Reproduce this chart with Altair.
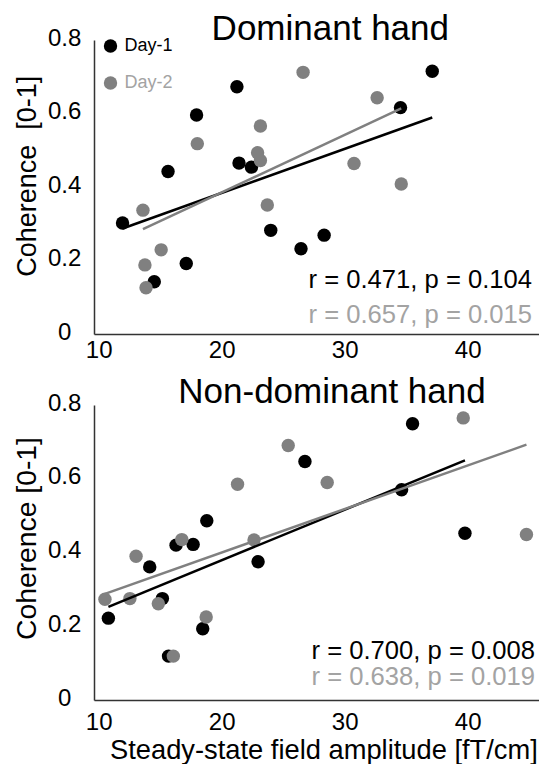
import altair as alt
import pandas as pd

FONT = "Liberation Sans"

days = ["Day-1", "Day-2"]
point_colors = ["#000000", "#808080"]
text_colors = ["#000000", "#a3a3a3"]

panel_titles = ["Dominant hand", "Non-dominant hand"]

# Dominant hand
dom_day1_x = [11.94, 14.52, 15.64, 17.12, 17.96, 21.24, 21.41, 22.42, 23.99, 26.45, 28.33, 34.54, 37.12]
dom_day1_y = [0.302, 0.142, 0.442, 0.192, 0.596, 0.673, 0.465, 0.454, 0.282, 0.232, 0.269, 0.616, 0.715]
dom_day2_x = [13.60, 13.76, 13.85, 15.08, 18.02, 22.92, 23.15, 23.15, 23.71, 26.62, 30.76, 32.64, 34.60]
dom_day2_y = [0.337, 0.188, 0.126, 0.229, 0.518, 0.493, 0.472, 0.566, 0.351, 0.712, 0.464, 0.643, 0.408]

# Non-dominant hand
nd_day1_x = [10.79, 14.15, 15.18, 15.68, 16.29, 17.68, 18.46, 18.79, 22.96, 26.77, 34.63, 35.52, 39.78]
nd_day1_y = [0.222, 0.361, 0.275, 0.119, 0.420, 0.422, 0.193, 0.486, 0.375, 0.647, 0.570, 0.749, 0.452]
nd_day2_x = [10.51, 12.54, 13.04, 14.85, 16.07, 16.76, 18.74, 21.29, 22.63, 25.41, 28.58, 39.64, 44.78]
nd_day2_y = [0.273, 0.275, 0.390, 0.261, 0.119, 0.435, 0.225, 0.585, 0.434, 0.690, 0.590, 0.765, 0.449]

dom_r = [0.471, 0.657]
dom_p = [0.104, 0.015]
nd_r = [0.700, 0.638]
nd_p = [0.008, 0.019]

x_ticks = [10, 20, 30, 40]
y_ticks = [0, 0.2, 0.4, 0.6, 0.8]
x_domain = [9.62, 45.8]
y_domain = [0, 0.8]


def make_df(x1, y1, x2, y2):
    rows = []
    for d, xs, ys in [(days[0], x1, y1), (days[1], x2, y2)]:
        for xv, yv in zip(xs, ys):
            rows.append({"x": xv, "y": yv, "day": d})
    return pd.DataFrame(rows)


def make_stats(rs, ps):
    return pd.DataFrame({
        "day": days,
        "label": [f"r = {r:.3f}, p = {p:.3f}" for r, p in zip(rs, ps)],
    })


dom_df = make_df(dom_day1_x, dom_day1_y, dom_day2_x, dom_day2_y)
nd_df = make_df(nd_day1_x, nd_day1_y, nd_day2_x, nd_day2_y)
dom_stats = make_stats(dom_r, dom_p)
nd_stats = make_stats(nd_r, nd_p)


def panel(df, stats, title, title_size, title_x, title_y, ytitle, ytitle_y, ytitle_size,
          height, xtitle, x_label_pad, show_legend, stat_x, stat_ys):
    color_scale = alt.Scale(domain=days, range=point_colors)
    x_axis_kw = dict(values=x_ticks, format="d", labelPadding=x_label_pad,
                     labelFlush=False, title=xtitle)
    if xtitle:
        x_axis_kw.update(titleX=229.4, titleY=58, titleAlign="center",
                         titleBaseline="alphabetic", titleFontSize=27.3, titleAngle=0)
    x = alt.X("x:Q", scale=alt.Scale(domain=x_domain, nice=False, zero=False),
              axis=alt.Axis(**x_axis_kw))
    y = alt.Y("y:Q", scale=alt.Scale(domain=y_domain, nice=False),
              axis=alt.Axis(values=y_ticks, format="~g", title=ytitle,
                            titleAngle=270, titleAlign="center",
                            titleBaseline="alphabetic", titleX=-59, titleY=ytitle_y,
                            titleFontSize=ytitle_size, labelAlign="center",
                            labelBaseline="middle", labelPadding=29.8,
                            labelOffset=-2, labelFlush=False))
    if show_legend:
        legend = alt.Legend(title=None, orient="none", legendX=7.5, legendY=-3,
                            direction="vertical", labelFont=FONT, labelFontSize=18,
                            labelColor={"expr": "datum.label == 'Day-2' ? '#a3a3a3' : '#000000'"},
                            symbolType="circle", symbolSize=180, symbolStrokeWidth=0,
                            symbolOpacity=1, rowPadding=19, labelOffset=5, padding=0)
    else:
        legend = None
    points = alt.Chart(df).mark_circle(size=180, opacity=1).encode(
        x=x, y=y, color=alt.Color("day:N", scale=color_scale, legend=legend))
    lines = alt.Chart(df).transform_regression(
        "x", "y", groupby=["day"]).mark_line(strokeWidth=2.5).encode(
        x=x, y=y, color=alt.Color("day:N", scale=color_scale, legend=None))
    texts = []
    for i, d in enumerate(days):
        texts.append(
            alt.Chart(stats).transform_filter(alt.datum.day == d).mark_text(
                align="right", baseline="alphabetic", font=FONT, fontSize=25.6,
                color=text_colors[i]).encode(
                text="label:N", x=alt.value(stat_x), y=alt.value(stat_ys[i])))
    title_df = pd.DataFrame({"title": [title]})
    title_mark = alt.Chart(title_df).mark_text(
        align="center", baseline="alphabetic", font=FONT, fontSize=title_size,
        color="#000000").encode(
        text="title:N", x=alt.value(title_x), y=alt.value(title_y))
    return alt.layer(points, lines, *texts, title_mark).properties(
        width=445, height=height)


top = panel(dom_df, dom_stats, panel_titles[0], 35, 236.3, 0, "Coherence\u00a0 [0-1]", 135.8, 27,
            294, "", 4.3, True, 438, [248.3, 283.3])
bottom = panel(nd_df, nd_stats, panel_titles[1], 35, 238, -1.7, "Coherence [0-1]", 133, 28.3,
               295, "Steady-state field amplitude [fT/cm]", 10.3, False, 441, [254.3, 280])

chart = alt.vconcat(top, bottom, spacing=71, bounds="flush").resolve_scale(
    color="independent").properties(
    padding={"left": 11, "top": 12, "right": 0, "bottom": 0}
).configure_view(strokeWidth=0).configure_axis(
    grid=False, ticks=False, tickSize=0, domainColor="#333333", domainWidth=1.5,
    labelFont=FONT, labelFontSize=24, labelColor="#000000",
    titleFont=FONT, titleFontWeight="normal", titleColor="#000000"
)

chart.save("out.html", embed_options={"renderer": "svg", "actions": False})
